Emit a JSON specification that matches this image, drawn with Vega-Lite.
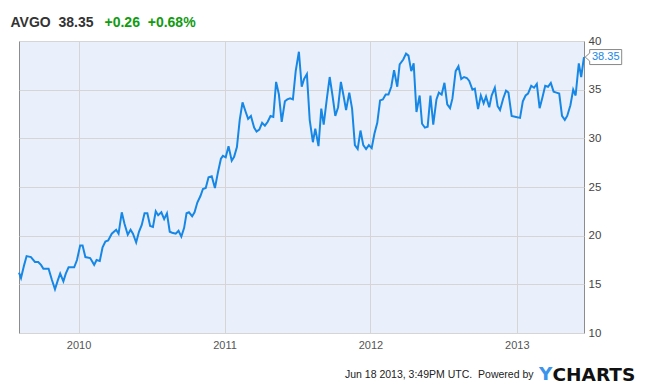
{
  "$schema": "https://vega.github.io/schema/vega-lite/v6.json",
  "width": 565,
  "height": 292,
  "autosize": {"type": "none"},
  "padding": {"left": 19, "top": 41, "right": 66, "bottom": 55},
  "background": "white",
  "datasets": {
    "prices": [
      {"date": "2009-08-05", "price": 16.2},
      {"date": "2009-08-10", "price": 15.65},
      {"date": "2009-08-18", "price": 17.0},
      {"date": "2009-08-24", "price": 17.9},
      {"date": "2009-09-04", "price": 17.8},
      {"date": "2009-09-08", "price": 17.6},
      {"date": "2009-09-14", "price": 17.3},
      {"date": "2009-09-22", "price": 17.3},
      {"date": "2009-09-29", "price": 17.0},
      {"date": "2009-10-05", "price": 16.6},
      {"date": "2009-10-18", "price": 16.6},
      {"date": "2009-10-26", "price": 15.5},
      {"date": "2009-11-03", "price": 14.5},
      {"date": "2009-11-10", "price": 15.4},
      {"date": "2009-11-16", "price": 16.1},
      {"date": "2009-11-24", "price": 15.3},
      {"date": "2009-11-30", "price": 16.1},
      {"date": "2009-12-07", "price": 16.75},
      {"date": "2009-12-21", "price": 16.75},
      {"date": "2009-12-28", "price": 17.5},
      {"date": "2010-01-05", "price": 19.0},
      {"date": "2010-01-11", "price": 19.0},
      {"date": "2010-01-18", "price": 17.8},
      {"date": "2010-01-30", "price": 17.7},
      {"date": "2010-02-09", "price": 17.0},
      {"date": "2010-02-15", "price": 17.5},
      {"date": "2010-02-23", "price": 17.4},
      {"date": "2010-03-02", "price": 18.8},
      {"date": "2010-03-09", "price": 19.4},
      {"date": "2010-03-16", "price": 19.5},
      {"date": "2010-03-25", "price": 20.2},
      {"date": "2010-04-05", "price": 20.6},
      {"date": "2010-04-11", "price": 20.2},
      {"date": "2010-04-19", "price": 22.4},
      {"date": "2010-04-26", "price": 21.2},
      {"date": "2010-05-04", "price": 20.1},
      {"date": "2010-05-11", "price": 20.6},
      {"date": "2010-05-17", "price": 20.2},
      {"date": "2010-05-25", "price": 19.3},
      {"date": "2010-06-01", "price": 20.4},
      {"date": "2010-06-08", "price": 21.1},
      {"date": "2010-06-15", "price": 22.3},
      {"date": "2010-06-22", "price": 22.3},
      {"date": "2010-06-29", "price": 21.0},
      {"date": "2010-07-06", "price": 20.9},
      {"date": "2010-07-13", "price": 22.5},
      {"date": "2010-07-19", "price": 22.1},
      {"date": "2010-07-27", "price": 22.4},
      {"date": "2010-08-03", "price": 21.7},
      {"date": "2010-08-10", "price": 22.3},
      {"date": "2010-08-17", "price": 20.4},
      {"date": "2010-08-23", "price": 20.3},
      {"date": "2010-09-01", "price": 20.2},
      {"date": "2010-09-08", "price": 20.5},
      {"date": "2010-09-15", "price": 19.9},
      {"date": "2010-09-22", "price": 20.8},
      {"date": "2010-09-28", "price": 22.3},
      {"date": "2010-10-04", "price": 22.4},
      {"date": "2010-10-12", "price": 22.0},
      {"date": "2010-10-18", "price": 22.4},
      {"date": "2010-10-25", "price": 23.4},
      {"date": "2010-11-02", "price": 24.1},
      {"date": "2010-11-08", "price": 24.8},
      {"date": "2010-11-15", "price": 24.9},
      {"date": "2010-11-22", "price": 26.0},
      {"date": "2010-11-30", "price": 26.1},
      {"date": "2010-12-08", "price": 24.9},
      {"date": "2010-12-16", "price": 26.6},
      {"date": "2010-12-23", "price": 27.9},
      {"date": "2010-12-28", "price": 28.2},
      {"date": "2011-01-04", "price": 28.05},
      {"date": "2011-01-11", "price": 29.2},
      {"date": "2011-01-19", "price": 27.7},
      {"date": "2011-01-25", "price": 28.1},
      {"date": "2011-02-01", "price": 29.1},
      {"date": "2011-02-08", "price": 31.9},
      {"date": "2011-02-15", "price": 33.7},
      {"date": "2011-02-23", "price": 32.7},
      {"date": "2011-03-01", "price": 32.0},
      {"date": "2011-03-08", "price": 32.3},
      {"date": "2011-03-16", "price": 31.1},
      {"date": "2011-03-22", "price": 30.7},
      {"date": "2011-03-29", "price": 30.9},
      {"date": "2011-04-05", "price": 31.6},
      {"date": "2011-04-12", "price": 31.3},
      {"date": "2011-04-19", "price": 31.7},
      {"date": "2011-04-26", "price": 32.3},
      {"date": "2011-05-03", "price": 32.2},
      {"date": "2011-05-10", "price": 35.8},
      {"date": "2011-05-17", "price": 34.5},
      {"date": "2011-05-24", "price": 31.7},
      {"date": "2011-06-01", "price": 33.8},
      {"date": "2011-06-07", "price": 34.0},
      {"date": "2011-06-14", "price": 34.1},
      {"date": "2011-06-21", "price": 34.0},
      {"date": "2011-06-28", "price": 36.9},
      {"date": "2011-07-06", "price": 38.9},
      {"date": "2011-07-13", "price": 35.3},
      {"date": "2011-07-19", "price": 36.1},
      {"date": "2011-07-26", "price": 36.6},
      {"date": "2011-08-02", "price": 31.9},
      {"date": "2011-08-10", "price": 29.6},
      {"date": "2011-08-16", "price": 31.0},
      {"date": "2011-08-24", "price": 29.2},
      {"date": "2011-08-31", "price": 33.05},
      {"date": "2011-09-06", "price": 31.4},
      {"date": "2011-09-14", "price": 34.1},
      {"date": "2011-09-21", "price": 36.3},
      {"date": "2011-09-28", "price": 34.4},
      {"date": "2011-10-05", "price": 32.3},
      {"date": "2011-10-12", "price": 33.2},
      {"date": "2011-10-19", "price": 35.8},
      {"date": "2011-10-26", "price": 34.3},
      {"date": "2011-11-01", "price": 32.9},
      {"date": "2011-11-09", "price": 34.7},
      {"date": "2011-11-16", "price": 33.05},
      {"date": "2011-11-23", "price": 29.3},
      {"date": "2011-11-30", "price": 28.9},
      {"date": "2011-12-07", "price": 30.8},
      {"date": "2011-12-14", "price": 29.3},
      {"date": "2011-12-21", "price": 28.9},
      {"date": "2011-12-28", "price": 29.3},
      {"date": "2012-01-04", "price": 29.0},
      {"date": "2012-01-11", "price": 30.5},
      {"date": "2012-01-18", "price": 31.6},
      {"date": "2012-01-25", "price": 33.9},
      {"date": "2012-02-01", "price": 34.0},
      {"date": "2012-02-08", "price": 34.5},
      {"date": "2012-02-15", "price": 34.5},
      {"date": "2012-02-22", "price": 35.3},
      {"date": "2012-02-29", "price": 37.0},
      {"date": "2012-03-08", "price": 35.3},
      {"date": "2012-03-14", "price": 37.6},
      {"date": "2012-03-23", "price": 38.1},
      {"date": "2012-03-30", "price": 38.7},
      {"date": "2012-04-05", "price": 38.5},
      {"date": "2012-04-12", "price": 36.9},
      {"date": "2012-04-18", "price": 37.7},
      {"date": "2012-04-25", "price": 32.7},
      {"date": "2012-05-03", "price": 34.4},
      {"date": "2012-05-09", "price": 31.5},
      {"date": "2012-05-16", "price": 31.1},
      {"date": "2012-05-23", "price": 31.2},
      {"date": "2012-05-30", "price": 34.4},
      {"date": "2012-06-06", "price": 31.4},
      {"date": "2012-06-14", "price": 34.0},
      {"date": "2012-06-20", "price": 34.7},
      {"date": "2012-06-27", "price": 34.5},
      {"date": "2012-07-04", "price": 35.7},
      {"date": "2012-07-11", "price": 33.5},
      {"date": "2012-07-18", "price": 33.1},
      {"date": "2012-07-24", "price": 34.1},
      {"date": "2012-08-01", "price": 36.9},
      {"date": "2012-08-08", "price": 37.4},
      {"date": "2012-08-15", "price": 36.1},
      {"date": "2012-08-22", "price": 36.3},
      {"date": "2012-08-29", "price": 36.2},
      {"date": "2012-09-04", "price": 35.9},
      {"date": "2012-09-12", "price": 35.0},
      {"date": "2012-09-18", "price": 35.1},
      {"date": "2012-09-26", "price": 33.0},
      {"date": "2012-10-03", "price": 34.4},
      {"date": "2012-10-10", "price": 33.6},
      {"date": "2012-10-16", "price": 34.3},
      {"date": "2012-10-24", "price": 33.2},
      {"date": "2012-10-30", "price": 34.4},
      {"date": "2012-11-07", "price": 35.2},
      {"date": "2012-11-14", "price": 33.3},
      {"date": "2012-11-20", "price": 32.9},
      {"date": "2012-11-28", "price": 34.1},
      {"date": "2012-12-05", "price": 34.9},
      {"date": "2012-12-11", "price": 34.7},
      {"date": "2012-12-19", "price": 32.3},
      {"date": "2012-12-30", "price": 32.2},
      {"date": "2013-01-09", "price": 32.1},
      {"date": "2013-01-16", "price": 33.8},
      {"date": "2013-01-23", "price": 34.4},
      {"date": "2013-01-29", "price": 34.6},
      {"date": "2013-02-06", "price": 35.4},
      {"date": "2013-02-13", "price": 35.2},
      {"date": "2013-02-20", "price": 35.6},
      {"date": "2013-02-27", "price": 33.1},
      {"date": "2013-03-06", "price": 34.2},
      {"date": "2013-03-13", "price": 35.4},
      {"date": "2013-03-20", "price": 35.3},
      {"date": "2013-03-27", "price": 35.7},
      {"date": "2013-04-03", "price": 34.8},
      {"date": "2013-04-10", "price": 34.7},
      {"date": "2013-04-17", "price": 34.6},
      {"date": "2013-04-24", "price": 32.3},
      {"date": "2013-05-01", "price": 31.9},
      {"date": "2013-05-07", "price": 32.3},
      {"date": "2013-05-15", "price": 33.4},
      {"date": "2013-05-22", "price": 35.0},
      {"date": "2013-05-28", "price": 34.4},
      {"date": "2013-06-05", "price": 37.7},
      {"date": "2013-06-11", "price": 36.3},
      {"date": "2013-06-17", "price": 38.09},
      {"date": "2013-06-18", "price": 38.35}
    ],
    "last": [
      {"date": "2013-06-18", "price": 38.35, "label": "38.35"}
    ]
  },
  "encoding": {
    "x": {
      "field": "date",
      "type": "temporal",
      "scale": {
        "domain": [
          {"year": 2009, "month": 8, "date": 5, "utc": true},
          {"year": 2013, "month": 6, "date": 18, "utc": true}
        ],
        "nice": false
      },
      "axis": {
        "values": [
          {"year": 2010, "month": 1, "date": 1, "utc": true},
          {"year": 2011, "month": 1, "date": 1, "utc": true},
          {"year": 2012, "month": 1, "date": 1, "utc": true},
          {"year": 2013, "month": 1, "date": 1, "utc": true}
        ],
        "format": "%Y",
        "grid": true,
        "gridColor": "#d5d5d5",
        "gridWidth": 1,
        "ticks": false,
        "domain": false,
        "labelPadding": 6,
        "labelFont": "Liberation Sans",
        "labelFontSize": 11,
        "labelColor": "#555555",
        "title": "Jun 18 2013, 3:49PM UTC.\u00a0\u00a0Powered by",
        "titleFont": "Liberation Sans",
        "titleFontSize": 10.5,
        "titleFontWeight": "normal",
        "titleColor": "#222222",
        "titleAnchor": "start",
        "titleAlign": "right",
        "titleBaseline": "alphabetic",
        "titleX": 514,
        "titleY": 44
      }
    },
    "y": {
      "field": "price",
      "type": "quantitative",
      "scale": {"domain": [10, 40], "nice": false, "zero": false},
      "axis": {
        "orient": "right",
        "values": [10, 15, 20, 25, 30, 35, 40],
        "grid": true,
        "gridColor": "#d5d5d5",
        "gridWidth": 1,
        "ticks": false,
        "domain": false,
        "labelPadding": 4,
        "labelFont": "Liberation Sans",
        "labelFontSize": 11.5,
        "labelColor": "#444444",
        "labelFlush": false,
        "title": "CHARTS",
        "titleFont": "DejaVu Sans",
        "titleFontSize": 18.5,
        "titleFontWeight": "bold",
        "titleColor": "#111111",
        "titleAngle": 0,
        "titleAlign": "left",
        "titleBaseline": "alphabetic",
        "titleX": -32,
        "titleY": 339
      }
    }
  },
  "layer": [
    {
      "data": {"name": "prices"},
      "mark": {"type": "line", "color": "#1787e6", "strokeWidth": 2, "interpolate": "linear"}
    },
    {
      "data": {"name": "last"},
      "mark": {
        "type": "point",
        "shape": "M0.024,0 L0.114,-0.08 L0.114,-0.15 L0.754,-0.15 L0.754,0.15 L0.114,0.15 L0.114,0.08 Z",
        "size": 10000,
        "filled": true,
        "fill": "white",
        "stroke": "#888888",
        "strokeWidth": 1,
        "opacity": 1
      },
      "encoding": {
        "x": {
          "field": "date",
          "type": "temporal",
          "axis": {
            "orient": "bottom",
            "labels": false,
            "ticks": false,
            "grid": false,
            "domain": false,
            "title": "Y",
            "titleFont": "DejaVu Sans",
            "titleFontSize": 18.5,
            "titleFontWeight": "bold",
            "titleColor": "#3b93ec",
            "titleAlign": "left",
            "titleAnchor": "start",
            "titleBaseline": "alphabetic",
            "titleX": 519.5,
            "titleY": 46.7
          }
        },
        "y": {"field": "price", "type": "quantitative", "axis": null}
      }
    },
    {
      "data": {"name": "last"},
      "mark": {"type": "text", "align": "left", "baseline": "middle", "dx": 8, "font": "Liberation Sans", "fontSize": 11, "color": "#1787e6"},
      "encoding": {
        "x": {
          "field": "date",
          "type": "temporal",
          "axis": {
            "orient": "top",
            "labels": false,
            "ticks": false,
            "grid": false,
            "domain": false,
            "title": "AVGO\u00a0\u00a038.35",
            "titleFont": "Liberation Sans",
            "titleFontSize": 14,
            "titleFontWeight": "bold",
            "titleColor": "#333333",
            "titleAlign": "left",
            "titleAnchor": "start",
            "titleBaseline": "alphabetic",
            "titleX": -9,
            "titleY": -14.5
          }
        },
        "y": {
          "field": "price",
          "type": "quantitative",
          "axis": {
            "orient": "left",
            "labels": false,
            "ticks": false,
            "grid": false,
            "domain": false,
            "title": "+0.26\u00a0\u00a0+0.68%",
            "titleFont": "Liberation Sans",
            "titleFontSize": 14,
            "titleFontWeight": "bold",
            "titleColor": "#119b11",
            "titleAngle": 0,
            "titleAlign": "left",
            "titleAnchor": "start",
            "titleBaseline": "alphabetic",
            "titleX": 85,
            "titleY": -14.5
          }
        },
        "text": {"field": "label"}
      }
    }
  ],
  "resolve": {"axis": {"x": "independent", "y": "independent"}},
  "config": {
    "view": {"fill": "#eaf0fb", "stroke": "#8c8c8c", "strokeWidth": 1},
    "font": "Liberation Sans"
  }
}
